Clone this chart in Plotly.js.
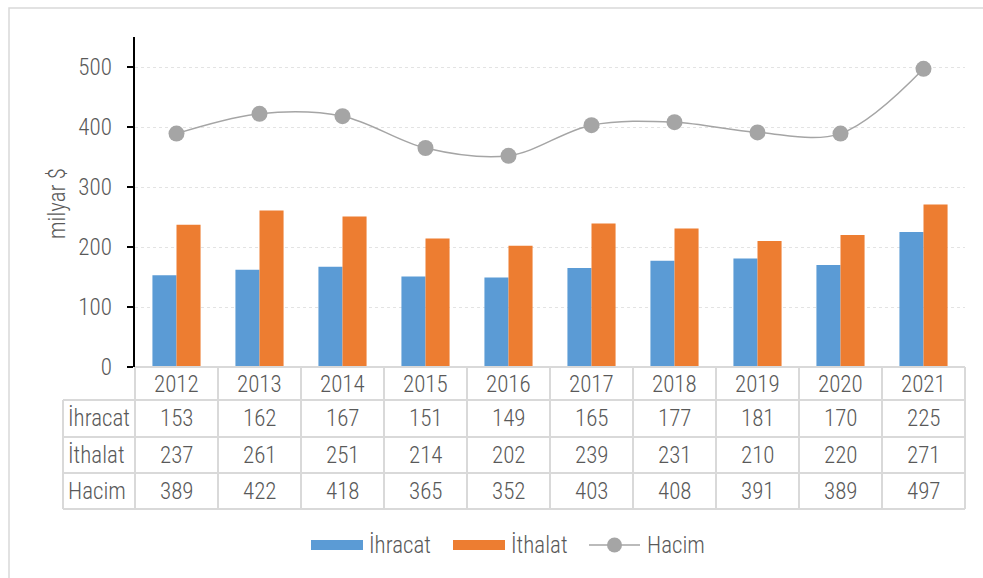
<!DOCTYPE html>
<html>
<head>
<meta charset="utf-8">
<script src="https://cdn.plot.ly/plotly-3.0.1.min.js"></script>
<style>
html,body{margin:0;padding:0;background:#fff;}
#chart{width:983px;height:578px;}
</style>
</head>
<body>
<div id="chart"></div>
<script>
// ---- data ----
const years = ["2012","2013","2014","2015","2016","2017","2018","2019","2020","2021"];
const ihracat = [153,162,167,151,149,165,177,181,170,225];
const ithalat = [237,261,251,214,202,239,231,210,220,271];
const hacim = [389,422,418,365,352,403,408,391,389,497];
const seriesNames = ["İhracat","İthalat","Hacim"];
const yTitle = "milyar $";

// ---- style ----
const FONT = "'Roboto Condensed','Liberation Sans',Arial,sans-serif";
const TXT = "#595959";
const BLUE = "#5B9BD5", ORANGE = "#ED7D31", GRAY = "#A5A5A5", GRID = "#D9D9D9";
const FS = 23;
const FW = 300;
const F = {family:FONT, size:FS, color:TXT, weight:FW};

// pixel helpers -> paper coords (plot area: x 135..965, y 37..367)
const L = 135, R = 965, T = 37, B = 367;
const px = x => (x - L) / (R - L);
const py = y => (B - y) / (B - T);

const traces = [
  {type:"bar", x:years, y:ihracat, name:seriesNames[0], marker:{color:BLUE}, showlegend:false, hoverinfo:"y"},
  {type:"bar", x:years, y:ithalat, name:seriesNames[1], marker:{color:ORANGE}, showlegend:false, hoverinfo:"y"},
  {type:"scatter", mode:"lines+markers", x:years, y:hacim, name:seriesNames[2],
   line:{color:GRAY, width:1.5, shape:"spline", smoothing:1},
   marker:{color:GRAY, size:16}, showlegend:false}
];

const shapes = [];
const annotations = [];

// outer border
shapes.push({type:"rect", xref:"paper", yref:"paper", x0:px(9), x1:px(990), y0:py(8), y1:py(590),
  line:{color:"#D9D9D9", width:1.5}, fillcolor:"rgba(0,0,0,0)", layer:"below"});

// table geometry (pixels)
const rowLines = [400, 437, 473, 509];
const rowCenters = [384, 419, 455, 491];
const labelLeft = 63;
const colW = (R - L) / years.length;

// horizontal lines
shapes.push({type:"line", xref:"paper", yref:"paper", x0:px(L), x1:px(R), y0:py(B), y1:py(B), line:{color:GRID, width:2}});
rowLines.forEach(y => shapes.push({type:"line", xref:"paper", yref:"paper", x0:px(labelLeft), x1:px(R), y0:py(y), y1:py(y), line:{color:GRID, width:2}}));
// vertical lines
shapes.push({type:"line", xref:"paper", yref:"paper", x0:px(labelLeft), x1:px(labelLeft), y0:py(400), y1:py(509), line:{color:GRID, width:2}});
for (let i = 0; i <= years.length; i++) {
  const x = L + i * colW;
  shapes.push({type:"line", xref:"paper", yref:"paper", x0:px(x), x1:px(x), y0:py(B), y1:py(509), line:{color:GRID, width:2}});
}

// header years (x given as category index)
years.forEach((yr, i) => annotations.push({x:i, xref:"x", y:py(rowCenters[0]), yref:"paper", text:yr, showarrow:false,
  font:F, xanchor:"center", yanchor:"middle"}));
// rows
const rows = [ihracat, ithalat, hacim];
rows.forEach((vals, r) => {
  annotations.push({x:px(labelLeft + 3), xref:"paper", y:py(rowCenters[r+1]), yref:"paper", text:seriesNames[r], showarrow:false,
    font:F, xanchor:"left", yanchor:"middle"});
  vals.forEach((v, i) => annotations.push({x:i, xref:"x", y:py(rowCenters[r+1]), yref:"paper", text:String(v), showarrow:false,
    font:F, xanchor:"center", yanchor:"middle"}));
});

// custom legend
const ly = 545;
shapes.push({type:"rect", xref:"paper", yref:"paper", x0:px(311), x1:px(363), y0:py(550), y1:py(540), fillcolor:BLUE, line:{width:0}});
shapes.push({type:"rect", xref:"paper", yref:"paper", x0:px(453), x1:px(505), y0:py(550), y1:py(540), fillcolor:ORANGE, line:{width:0}});
shapes.push({type:"line", xref:"paper", yref:"paper", x0:px(589), x1:px(640), y0:py(ly), y1:py(ly), line:{color:GRAY, width:1.5}});
shapes.push({type:"circle", xref:"paper", yref:"paper", x0:px(607), x1:px(622), y0:py(552.5), y1:py(537.5), fillcolor:GRAY, line:{width:0}});
[[367,0],[509,1],[645,2]].forEach(([x, k]) => annotations.push({x:px(x), xref:"paper", y:py(ly), yref:"paper", text:seriesNames[k], showarrow:false,
  font:F, xanchor:"left", yanchor:"middle"}));

// y title
annotations.push({x:px(57), xref:"paper", y:py(204), yref:"paper", text:yTitle, textangle:-90, showarrow:false,
  font:F, xanchor:"center", yanchor:"middle"});

const layout = {
  width:983, height:578,
  margin:{l:L, r:983-R, t:T, b:578-B, pad:0},
  paper_bgcolor:"#fff", plot_bgcolor:"#fff",
  barmode:"group", bargap:0.42, bargroupgap:0,
  showlegend:false,
  font:F,
  xaxis:{type:"category", range:[-0.5, 9.5], showticklabels:false, ticks:"", showgrid:false, zeroline:false, showline:false, fixedrange:true},
  yaxis:{range:[0,550], tickvals:[0,100,200,300,400,500], ticks:"outside", ticklen:6, tickwidth:2, tickcolor:"#000",
    showline:true, linecolor:"#000", linewidth:2.5, showgrid:true, gridcolor:"#E3E3E3", griddash:"dot", gridwidth:1,
    zeroline:false, tickfont:F, ticklabelstandoff:10, fixedrange:true},
  shapes:shapes,
  annotations:annotations
};

Plotly.newPlot("chart", traces, layout, {displayModeBar:false, staticPlot:true});
</script>
</body>
</html>
